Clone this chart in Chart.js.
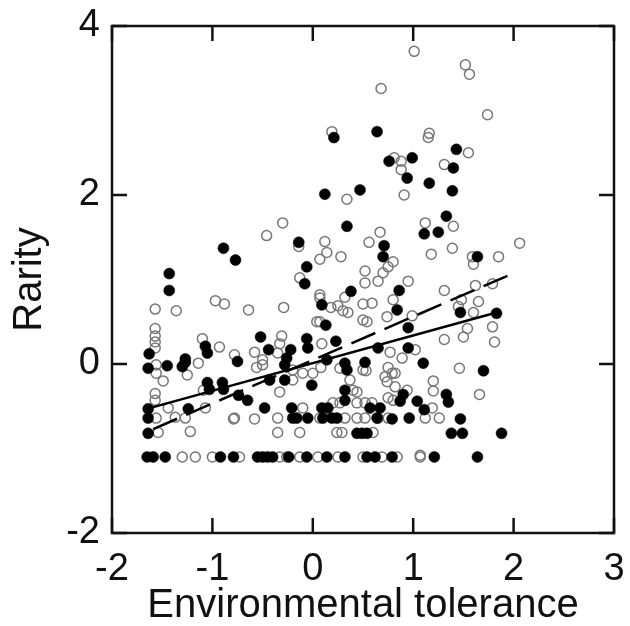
<!DOCTYPE html>
<html lang="en">
<head>
<meta charset="UTF-8">
<title>Rarity vs environmental tolerance</title>
<script src="https://cdn.jsdelivr.net/npm/chart.js"></script>
<style>
  html, body { margin: 0; padding: 0; background: #fff; }
  #wrap { width: 630px; height: 626px; }
</style>
</head>
<body>
<div id="wrap"><canvas id="rarityChart"></canvas></div>
<script>
// filled circles [tolerance, rarity]
const filledPts = [
  [0.21,2.68],[0.64,2.75],[1.43,2.54],[0.99,2.44],[0.76,2.40],[1.40,2.32],[0.94,2.20],[1.16,2.14],
  [1.39,2.05],[0.12,2.01],[0.47,2.06],[1.33,1.75],[1.11,1.54],[1.25,1.56],[0.71,1.40],[0.70,1.27],
  [1.64,1.27],[0.86,0.87],[0.84,0.64],[1.47,0.61],[1.83,0.60],[0.95,0.43],[0.65,0.19],[0.95,0.19],
  [0.34,1.63],[-0.89,1.37],[-0.77,1.23],[-0.14,1.44],[-0.06,1.15],[-0.08,0.95],[-1.43,1.07],[-1.43,0.87],
  [0.09,0.70],[0.38,0.86],[0.13,0.46],[0.23,0.27],[-0.06,0.30],[-0.05,0.19],[-0.52,0.32],[-0.44,0.17],
  [-0.22,0.17],[-1.07,0.21],[-1.05,0.13],[-1.63,0.12],[-1.27,0.06],
  [-1.64,-0.05],[-1.45,-0.02],[-1.30,-0.03],[-1.27,0.02],[-1.05,-0.22],[-1.03,-0.30],[-0.90,-0.22],[-0.89,-0.30],
  [-0.75,0.03],[-0.74,-0.37],[-0.65,-0.43],[-1.24,-0.53],[-1.64,-0.53],[-1.64,-0.64],[-1.64,-0.82],
  [-0.28,-0.01],[-0.26,0.07],[-0.43,-0.19],[-0.28,-0.19],[-0.01,-0.25],[0.14,0.05],[0.32,0.01],[0.34,-0.07],
  [0.52,0.02],[0.32,-0.31],[0.32,-0.43],[-0.48,-0.52],[-0.21,-0.52],[0.09,-0.52],[0.15,-0.52],[0.57,-0.52],
  [0.67,-0.52],[-0.20,-0.64],[-0.16,-0.64],[-0.05,-0.64],[0.10,-0.64],[0.19,-0.64],[0.24,-0.64],[0.64,-0.64],
  [0.44,-0.82],[0.49,-0.82],[0.54,-0.82],
  [1.10,0.01],[1.70,-0.08],[0.90,-0.36],[0.87,-0.44],[1.04,-0.44],[1.11,-0.54],[1.33,-0.36],[1.35,-0.45],
  [0.96,-0.64],[1.47,-0.65],[0.79,-0.65],[1.38,-0.82],[1.49,-0.82],[1.88,-0.82],
  [-1.65,-1.1],[-1.59,-1.1],[-1.47,-1.1],[-0.92,-1.1],[-0.79,-1.1],[-0.55,-1.1],[-0.50,-1.1],[-0.45,-1.1],
  [-0.40,-1.1],[-0.24,-1.1],[-0.06,-1.1],[0.14,-1.1],[0.32,-1.1],[0.54,-1.1],[0.62,-1.1],[0.79,-1.1],
  [1.21,-1.1],[1.64,-1.1]
];

// open circles [tolerance, rarity]
const openPts = [
  [1.01,3.70],[1.52,3.54],[1.56,3.43],[0.68,3.26],[1.74,2.95],[0.19,2.75],[1.16,2.73],[1.15,2.68],
  [1.55,2.50],[0.81,2.44],[0.88,2.40],[0.88,2.30],[1.31,2.36],[0.91,2.00],[0.34,1.95],
  [1.12,1.67],[1.40,1.63],[0.67,1.56],[0.56,1.44],[1.18,1.30],[1.39,1.37],[2.06,1.43],[1.85,1.27],
  [1.59,1.27],[1.60,1.18],[0.80,1.21],[0.75,1.15],[0.70,1.08],[0.52,1.10],[0.52,0.96],[0.65,0.98],
  [0.95,0.98],[1.31,0.87],[1.62,0.93],[1.79,0.95],[0.80,0.76],[1.65,0.74],[1.48,0.76],[1.45,0.68],
  [1.60,0.61],[0.99,0.57],[0.54,0.50],[0.74,0.56],[1.79,0.44],[1.54,0.42],[1.50,0.32],[1.31,0.29],
  [1.81,0.26],[0.77,0.14],[1.02,0.17],
  [-0.30,1.67],[-0.46,1.52],[-0.14,1.39],[0.12,1.45],[0.14,1.32],[0.07,1.24],[0.28,1.27],[-0.13,1.02],
  [-1.57,0.65],[-1.36,0.63],[-0.97,0.75],[-0.88,0.71],[-0.64,0.64],[-0.29,0.67],[0.07,0.82],[0.07,0.78],
  [0.32,0.79],[0.25,0.69],[0.30,0.63],[0.35,0.61],[0.18,0.67],[0.07,0.50],[0.04,0.50],[0.50,0.52],
  [0.59,0.72],[0.50,0.71],[0.09,0.24],[-0.31,0.33],[-0.33,0.24],[-0.58,0.14],[-0.78,0.11],[-0.93,0.20],
  [-1.10,0.30],[-1.57,0.42],[-1.57,0.33],[-1.57,0.26],[-1.57,0.19],
  [-1.56,-0.01],[-1.56,-0.11],[-1.49,-0.20],[-1.57,-0.35],[-1.57,-0.43],[-1.56,-0.64],[-1.54,-0.81],
  [-1.44,-0.52],[-1.25,-0.13],[-1.14,0.01],[-0.56,-0.04],[-0.78,-0.64],[-1.37,-0.63],[-1.27,-0.64],
  [-1.22,-0.80],[-1.07,-0.52],[-1.09,-0.31],[-0.35,0.13],[-0.50,0.05],[-0.50,-0.01],[-0.20,-0.07],
  [-0.10,-0.11],[0.00,-0.11],[0.08,-0.04],[0.27,-0.05],[0.50,-0.07],[0.53,-0.08],[0.75,-0.04],
  [0.79,-0.11],[0.72,-0.15],[0.74,-0.21],[0.82,-0.27],[-0.20,-0.19],[-0.33,-0.33],[0.37,-0.19],
  [0.40,-0.31],[0.44,-0.33],[0.75,-0.40],[0.80,-0.43],[0.20,-0.46],[0.27,-0.46],[0.44,-0.46],
  [0.52,-0.46],[0.59,-0.46],[-0.10,-0.52],[-0.35,-0.64],[-0.58,-0.65],[-0.79,-0.65],[0.07,-0.64],
  [0.32,-0.64],[0.44,-0.64],[0.52,-0.64],[0.65,-0.64],[0.75,-0.64],[-0.35,-0.81],[-0.13,-0.81],
  [0.24,-0.81],[0.29,-0.81],[0.60,-0.81],
  [0.89,0.07],[1.46,-0.05],[0.82,-0.11],[1.20,-0.20],[1.20,-0.32],[0.94,-0.31],[1.19,-0.52],[1.66,-0.36],
  [1.12,-0.64],[1.26,-0.64],[1.07,-1.08],
  [-1.30,-1.1],[-1.17,-1.1],[-1.00,-1.1],[-0.73,-1.1],[-0.33,-1.1],[-0.26,-1.1],[-0.13,-1.1],[0.05,-1.1],
  [0.25,-1.1],[0.50,-1.1],[0.69,-1.1],[0.84,-1.1],[1.07,-1.1]
];

// regression lines, end points
const fitSolid = [[-1.59,-0.51],[1.83,0.61]];
const fitDashed = [[-1.59,-0.77],[2.01,1.08]];

const xTicks = [-2, -1, 0, 1, 2, 3];
const yTicks = [-2, 0, 2, 4];

const toXY = arr => arr.map(p => ({ x: p[0], y: p[1] }));
const FONT = "'Liberation Sans', Arial, sans-serif";

// frame and inward ticks on all four sides
const frameTicks = {
  id: 'frameTicks',
  afterDraw(chart) {
    const { ctx, chartArea: a, scales } = chart;
    const len = 15;
    ctx.save();
    ctx.strokeStyle = '#111';
    ctx.lineWidth = 2.5;
    ctx.strokeRect(a.left, a.top, a.right - a.left, a.bottom - a.top);
    ctx.beginPath();
    xTicks.forEach(v => {
      const px = scales.x.getPixelForValue(v);
      ctx.moveTo(px, a.bottom); ctx.lineTo(px, a.bottom - len);
      ctx.moveTo(px, a.top); ctx.lineTo(px, a.top + len);
    });
    yTicks.forEach(v => {
      const py = scales.y.getPixelForValue(v);
      ctx.moveTo(a.left, py); ctx.lineTo(a.left + len, py);
      ctx.moveTo(a.right, py); ctx.lineTo(a.right - len, py);
    });
    ctx.stroke();
    ctx.restore();
  }
};

new Chart(document.getElementById('rarityChart'), {
  type: 'scatter',
  data: {
    datasets: [
      {
        type: 'line', data: toXY(fitSolid), borderColor: '#000', borderWidth: 2.5,
        pointRadius: 0, fill: false, order: 0
      },
      {
        type: 'line', data: toXY(fitDashed), borderColor: '#000', borderWidth: 2.5,
        borderDash: [26, 10], pointRadius: 0, fill: false, order: 1
      },
      {
        data: toXY(filledPts), pointRadius: 5.5, pointBackgroundColor: '#000',
        pointBorderColor: '#000', pointBorderWidth: 0.5, order: 2
      },
      {
        data: toXY(openPts), pointRadius: 5, pointBackgroundColor: 'rgba(255,255,255,0)',
        pointBorderColor: '#777', pointBorderWidth: 1.5, order: 3
      }
    ]
  },
  options: {
    responsive: true,
    maintainAspectRatio: false,
    animation: false,
    layout: { padding: { top: 26, right: 16, left: 0, bottom: 0 } },
    plugins: { legend: { display: false }, tooltip: { enabled: false } },
    scales: {
      x: {
        type: 'linear', min: -2, max: 3,
        afterBuildTicks: s => { s.ticks = xTicks.map(v => ({ value: v })); },
        afterFit: s => { s.height = 93; s.paddingLeft = 0; s.paddingRight = 0; },
        grid: { display: false, drawTicks: false },
        border: { display: false },
        ticks: { color: '#111', padding: 14, font: { family: FONT, size: 38 } },
        title: { display: true, text: 'Environmental tolerance', color: '#111',
                 padding: { top: 0, bottom: -4 }, font: { family: FONT, size: 40 } }
      },
      y: {
        type: 'linear', min: -2, max: 4,
        afterBuildTicks: s => { s.ticks = yTicks.map(v => ({ value: v })); },
        afterFit: s => { s.width = 112; s.paddingTop = 0; s.paddingBottom = 0; },
        grid: { display: false, drawTicks: false },
        border: { display: false },
        ticks: { color: '#111', padding: 12, font: { family: FONT, size: 38 } },
        title: { display: true, text: 'Rarity', color: '#111',
                 padding: { top: 6, bottom: 0 }, font: { family: FONT, size: 40 } }
      }
    }
  },
  plugins: [frameTicks]
});
</script>
</body>
</html>
